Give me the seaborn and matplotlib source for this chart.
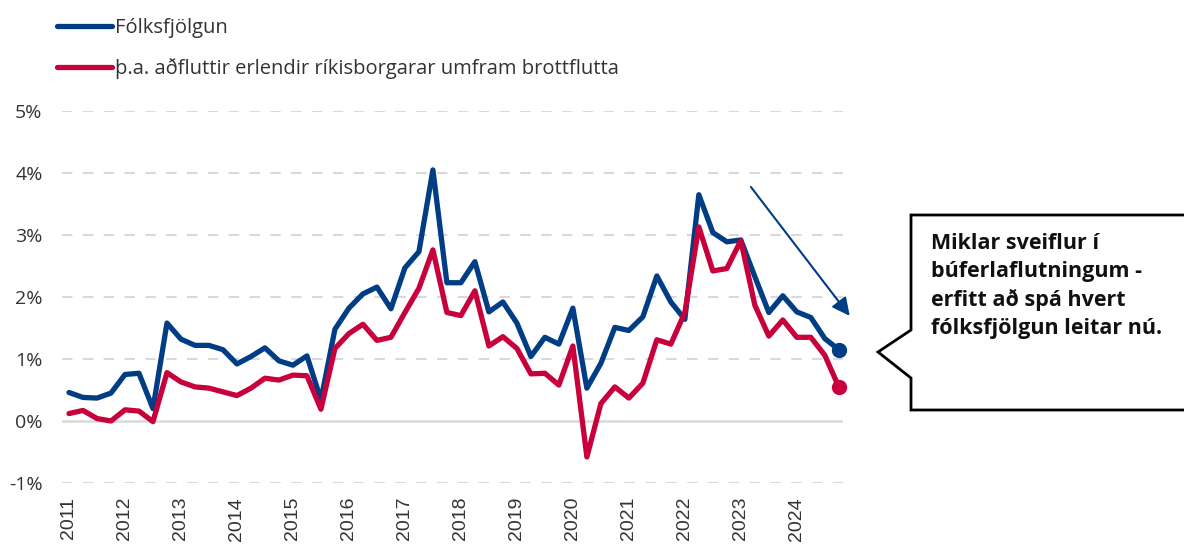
import numpy as np
import pandas as pd
import seaborn as sns
import matplotlib.pyplot as plt
from matplotlib.patches import Polygon

# quarterly, 2011Q1 - 2024Q4, % yoy
folksfjolgun = [0.46, 0.38, 0.37, 0.45, 0.75, 0.77, 0.20, 1.58, 1.32, 1.22, 1.22, 1.15,
                0.92, 1.04, 1.18, 0.97, 0.90, 1.05, 0.34, 1.48, 1.82, 2.05, 2.16, 1.81,
                2.47, 2.73, 4.05, 2.23, 2.23, 2.57, 1.76, 1.92, 1.58, 1.04, 1.35, 1.24,
                1.82, 0.53, 0.93, 1.51, 1.46, 1.68, 2.34, 1.92, 1.64, 3.65, 3.04, 2.89,
                2.92, 2.33, 1.75, 2.02, 1.76, 1.67, 1.33, 1.15]
erlendir = [0.12, 0.17, 0.04, 0.00, 0.18, 0.16, -0.01, 0.78, 0.63, 0.55, 0.53, 0.47,
            0.41, 0.53, 0.69, 0.66, 0.74, 0.73, 0.19, 1.17, 1.41, 1.56, 1.30, 1.35,
            1.75, 2.14, 2.76, 1.75, 1.70, 2.10, 1.21, 1.36, 1.17, 0.76, 0.77, 0.58,
            1.21, -0.58, 0.28, 0.55, 0.37, 0.61, 1.31, 1.24, 1.75, 3.13, 2.42, 2.46,
            2.91, 1.87, 1.37, 1.63, 1.35, 1.35, 1.06, 0.55]
years = list(range(2011, 2025))
labels = ['Fólksfjölgun', 'þ.a. aðfluttir erlendir ríkisborgarar umfram brottflutta']
callout = 'Miklar sveiflur í\nbúferlaflutningum -\nerfitt að spá hvert\nfólksfjölgun leitar nú.'

blue = '#003d85'
red = '#c8003c'

sns.set_style('white')
plt.rcParams['font.family'] = ['Open Sans', 'DejaVu Sans']

n = len(folksfjolgun)
df = pd.DataFrame({'q': list(range(n)) * 2,
                   'val': folksfjolgun + erlendir,
                   'series': [labels[0]] * n + [labels[1]] * n})

fig = plt.figure(figsize=(11.84, 5.45), dpi=100)
ax = fig.add_axes([62 / 1184, 62 / 545, (843 - 62) / 1184, (483 - 111) / 545])

sns.lineplot(data=df, x='q', y='val', hue='series', palette=[blue, red],
             linewidth=3.8, ax=ax, clip_on=False)
ax.plot(n - 1, folksfjolgun[-1], 'o', color=blue, markersize=10, clip_on=False, zorder=5)
ax.plot(n - 1, erlendir[-1], 'o', color=red, markersize=10, clip_on=False, zorder=5)

ax.set_xlim(-0.5, 55.3)
ax.set_ylim(-1, 5)
for v in [-1, 1, 2, 3, 4, 5]:
    ax.axhline(v, color='#d9d9d9', lw=1.5, ls=(0, (5, 5)), zorder=0)
ax.axhline(0, color='#d9d9d9', lw=1.8, zorder=0)

ax.set_yticks(range(-1, 6))
ax.set_yticklabels([f'{v}%' for v in range(-1, 6)])
ax.set_xticks([4 * i for i in range(len(years))])
ax.set_xticklabels([str(y) for y in years], rotation=90, family='Liberation Sans')
ax.tick_params(axis='y', length=0, pad=14, labelsize=14, labelcolor='#333333')
ax.tick_params(axis='x', length=0, pad=10, labelsize=14, labelcolor='#333333')
ax.set_xlabel('')
ax.set_ylabel('')
sns.despine(ax=ax, left=True, bottom=True)

ax.annotate('', xy=(55.9, 1.66), xytext=(48.6, 3.81),
            arrowprops=dict(arrowstyle='-|>', color=blue, lw=1.5, mutation_scale=27),
            annotation_clip=False)

leg = ax.legend(loc='upper left', bbox_to_anchor=(-5 / 781, 1 + 93 / 372),
                frameon=False, fontsize=14.5, handlelength=2.75, handletextpad=0.15,
                labelspacing=1.0, borderaxespad=0, borderpad=0)
for line in leg.get_lines():
    line.set_linewidth(3.8)
for t in leg.get_texts():
    t.set_color('#333333')

pts = [(911, 215), (1200, 215), (1200, 410), (911, 410), (911, 378), (878, 352), (911, 330)]
poly = Polygon([(x / 1184, 1 - y / 545) for x, y in pts], closed=True,
               facecolor='white', edgecolor='black', lw=2, transform=fig.transFigure)
fig.patches.append(poly)
fig.text(931 / 1184, 1 - 233 / 545, callout, fontsize=15.5, fontweight='bold',
         va='top', ha='left', linespacing=1.42, color='#111111')

fig.savefig('out.png', dpi=100)
